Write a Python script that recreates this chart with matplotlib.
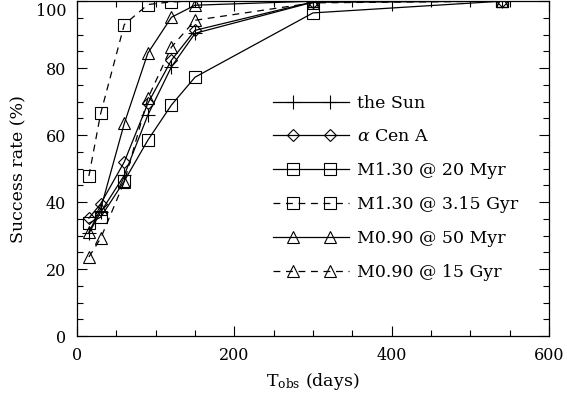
import matplotlib
matplotlib.use("Agg")
import matplotlib.pyplot as plt
import matplotlib.transforms as mtransforms
from matplotlib.legend_handler import HandlerLine2D
from matplotlib.lines import Line2D
import numpy as np

plt.rcParams.update({
    'font.family': 'DejaVu Serif',
    'mathtext.fontset': 'dejavuserif',
    'font.size': 11.5,
})

t_obs = [15, 30, 60, 90, 120, 150, 300, 540]

sun = [30.7, 37.0, 48.0, 66.0, 80.4, 90.4, 99.7, 100]
acen = [35.2, 39.5, 52.0, 69.5, 82.4, 91.3, 99.8, 100]
m130_20myr = [33.7, 35.5, 46.3, 58.5, 69.0, 77.3, 96.5, 100]
m130_315gyr = [47.8, 66.5, 93.0, 99.0, 99.8, 100, 100, 100]
m090_50myr = [31.0, 38.0, 63.5, 84.5, 95.2, 98.8, 100, 100]
m090_15gyr = [23.6, 29.2, 46.0, 71.0, 86.3, 94.3, 99.5, 100]

labels = ["the Sun", r"$\alpha$ Cen A", "M1.30 @ 20 Myr", "M1.30 @ 3.15 Gyr",
          "M0.90 @ 50 Myr", "M0.90 @ 15 Gyr"]


# legend line spans the full handle, the two markers sit inside it (IDL style)
class InsetMarkers(HandlerLine2D):
    def create_artists(self, legend, orig_handle, xdescent, ydescent,
                       width, height, fontsize, trans):
        x0 = -xdescent
        xdata = [x0, x0 + 0.26 * width, x0 + 0.74 * width, x0 + width]
        ydata = np.full(4, (height - ydescent) / 2)
        line = Line2D(xdata, ydata)
        self.update_prop(line, orig_handle, legend)
        line.set_markevery([1, 2])
        line.set_transform(trans)
        return [line]


fig = plt.figure(figsize=(5.67, 3.93), dpi=100)
ax = fig.add_axes([0.136, 0.145, 0.832, 0.852])

dash = (0, (5.5, 4.5))
kw = dict(color='k', lw=0.9, mfc='none', mec='k', mew=0.8, ms=8)
ax.plot(t_obs, sun, marker='+', linestyle='-', label=labels[0], **dict(kw, ms=10))
ax.plot(t_obs, acen, marker='D', linestyle='-', label=labels[1], **dict(kw, ms=6.5))
ax.plot(t_obs, m130_20myr, marker='s', linestyle='-', label=labels[2], **kw)
ax.plot(t_obs, m130_315gyr, marker='s', linestyle=dash, label=labels[3], **kw)
ax.plot(t_obs, m090_50myr, marker='^', linestyle='-', label=labels[4], **kw)
ax.plot(t_obs, m090_15gyr, marker='^', linestyle=dash, label=labels[5], **kw)

ax.set_xlim(0, 600)
ax.set_ylim(0, 100)
ax.set_xticks(np.arange(0, 601, 200))
ax.set_xticks(np.arange(0, 601, 50), minor=True)
ax.set_yticks(np.arange(0, 101, 20))
ax.set_yticks(np.arange(0, 101, 5), minor=True)
ax.tick_params(which='both', direction='in', top=True, right=True, width=0.8)
ax.tick_params(which='major', length=7, pad=8)
ax.tick_params(which='minor', length=4)
for s in ax.spines.values():
    s.set_linewidth(0.9)

# the top "100" label sits a bit lower so it isn't cut by the figure edge
lab = ax.get_yticklabels()[-1]
lab.set_transform(lab.get_transform() +
                  mtransforms.ScaledTranslation(0, -6 / 72, fig.dpi_scale_trans))

ax.set_xlabel(r'T$_{\rm obs}$ (days)', fontsize=12.5, labelpad=5)
ax.set_ylabel('Success rate (%)', fontsize=12.5, labelpad=6)

ax.legend(loc='center left', bbox_to_anchor=(0.397, 0.443), frameon=False,
          numpoints=2, handlelength=4.4, handletextpad=0.45, labelspacing=0.97,
          borderpad=0, fontsize=12.5, handler_map={Line2D: InsetMarkers()})

plt.savefig("out.png", dpi=100)
